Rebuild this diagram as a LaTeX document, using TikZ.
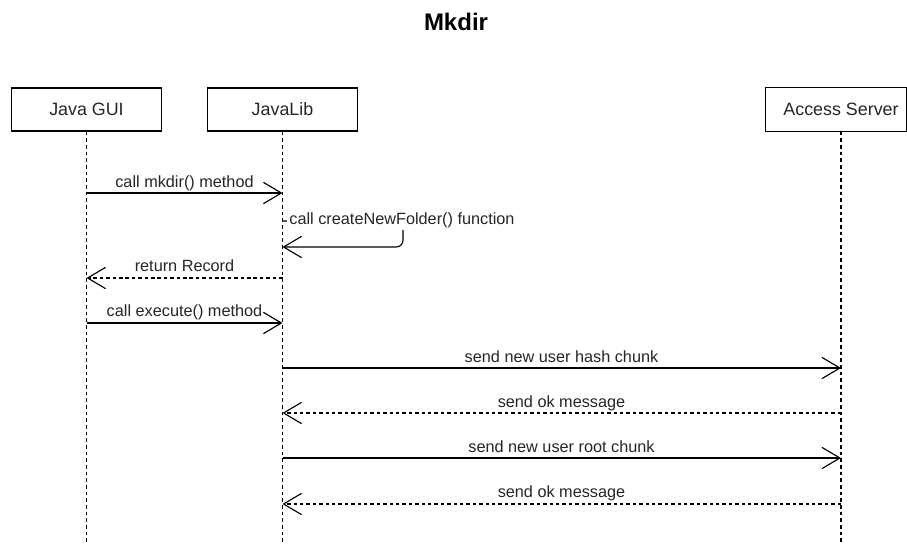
\documentclass[tikz,border=0pt]{standalone}
\usepackage{fontspec}
\setmainfont{Liberation Sans}
\usetikzlibrary{arrows.meta}

\tikzset{
  actor/.style={draw=black, line width=0.95pt, fill=white, minimum width=112.5pt,
    minimum height=32.25pt, inner sep=0pt, text=black!85,
    font=\fontsize{13.4}{16}\selectfont},
  lifeline/.style={draw=black, line width=0.9pt, dash pattern=on 2.8pt off 2.2pt},
  openhead/.tip={Straight Barb[length=13.5pt, width=16pt, line width=0.85pt]},
  callmsg/.style={draw=black, line width=0.85pt, -openhead},
  replymsg/.style={draw=black, line width=0.85pt, dash pattern=on 2.6pt off 2.2pt, -openhead},
  msglabel/.style={anchor=base, inner sep=0pt, text=black!85,
    font=\fontsize{12.2}{15}\selectfont},
  titlelabel/.style={inner sep=0pt, text=black, font=\fontsize{18}{22}\selectfont\bfseries}
}

\begin{document}
\begin{tikzpicture}[x=0.75pt, y=-0.75pt]
  \useasboundingbox[fill=white] (0,0) rectangle (907,543);

  % title
  \node[titlelabel, anchor=base] (title) at (456,30) {Mkdir};

  % participants
  \node[actor] (gui) at (86.5,109.5) {Java GUI};
  \node[actor] (lib) at (282.5,109.5) {JavaLib};
  \node[actor, draw=none] (srv) at (841,109.5) {Access Server};
  \draw[line width=0.95pt] (srv.north west) rectangle ([xshift=-7.4pt]srv.south east);

  % lifelines down to the page bottom
  \coordinate (bottom) at (0,543);
  \draw[lifeline] (gui.south) -- (gui |- bottom);
  \draw[lifeline] (lib.south) -- (lib |- bottom);
  \draw[lifeline] (srv.south) -- (srv |- bottom);

  % message rows
  \coordinate (m1) at (0,193);
  \coordinate (s1) at (0,221);
  \coordinate (s2) at (0,247);
  \coordinate (sx) at (403,0);
  \coordinate (m3) at (0,278);
  \coordinate (m4) at (0,323);
  \coordinate (m5) at (0,368);
  \coordinate (m6) at (0,413);
  \coordinate (m7) at (0,458);
  \coordinate (m8) at (0,504);

  % Java GUI -> JavaLib : mkdir
  \draw[callmsg] (gui |- m1) -- (lib |- m1);
  \node[msglabel] (l1) at (184.5,187) {call mkdir() method};

  % JavaLib self call
  \draw[callmsg, rounded corners=5pt] (lib |- s1) -- (sx |- s1) -- (sx |- s2) -- (lib |- s2);
  \node[inner sep=1.6pt, fill=white, text=black!85, font=\fontsize{12.2}{15}\selectfont]
    (l2) at (402,220.5) {call createNewFolder() function};

  % JavaLib -> Java GUI : return
  \draw[replymsg] (lib |- m3) -- (gui |- m3);
  \node[msglabel] (l3) at (184.5,271) {return Record};

  % Java GUI -> JavaLib : execute
  \draw[callmsg] (gui |- m4) -- (lib |- m4);
  \node[msglabel] (l4) at (184.5,316) {call execute() method};

  % JavaLib <-> Access Server
  \draw[callmsg] (lib |- m5) -- (srv |- m5);
  \node[msglabel] (l5) at (561.5,362) {send new user hash chunk};

  \draw[replymsg] (srv |- m6) -- (lib |- m6);
  \node[msglabel] (l6) at (561.5,407) {send ok message};

  \draw[callmsg] (lib |- m7) -- (srv |- m7);
  \node[msglabel] (l7) at (561.5,452) {send new user root chunk};

  \draw[replymsg] (srv |- m8) -- (lib |- m8);
  \node[msglabel] (l8) at (561.5,497) {send ok message};
\end{tikzpicture}
\end{document}
